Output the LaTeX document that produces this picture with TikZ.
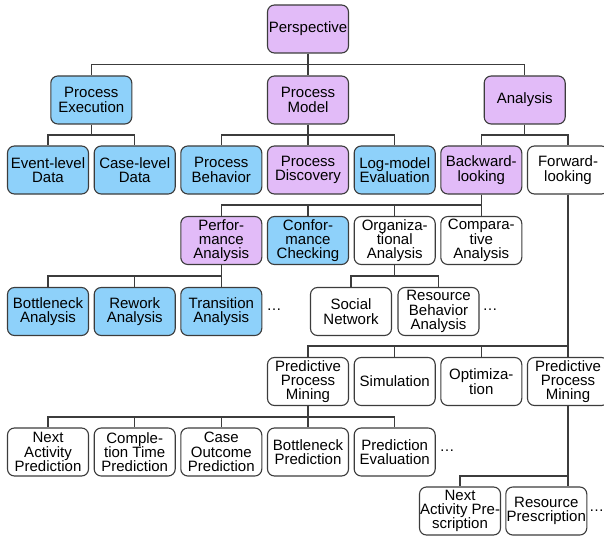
\documentclass[tikz,border=0pt]{standalone}
\usepackage{fontspec}
\setmainfont{Liberation Sans}
\definecolor{lav}{RGB}{226,187,248}
\definecolor{sky}{RGB}{142,209,250}
\definecolor{edge}{RGB}{60,60,60}
\begin{document}
\begin{tikzpicture}[x=1pt,y=-1pt,
  box/.style={draw=edge, line width=1.1pt, rounded corners=7pt,
    minimum width=81pt, minimum height=48pt, inner sep=0pt,
    align=center, font=\fontsize{15}{14.3}\selectfont},
  purplebox/.style={box, fill=lav},
  bluebox/.style={box, fill=sky},
  plainbox/.style={box, fill=white},
  link/.style={draw=edge, line width=1.1pt},
  more/.style={font=\fontsize{15}{14.3}\selectfont, inner sep=0pt}]
\useasboundingbox (0,0) rectangle (604,540);

% bus levels
\coordinate (y1) at (0,64.5);
\coordinate (y2) at (0,135);
\coordinate (y3) at (0,205);
\coordinate (y4) at (0,276);
\coordinate (y5) at (0,346);
\coordinate (y6) at (0,417);
\coordinate (y7) at (0,476);

% level 1-2
\node[purplebox] (persp) at (308,29) {Perspective};
\node[bluebox] (pexec) at (91.3,100) {Process\\Execution};
\node[purplebox] (pmodel) at (308,100) {Process\\Model};
\node[purplebox] (analysis) at (524.7,100) {Analysis};

% level 3
\node[bluebox] (evt) at (48,170) {Event-level\\Data};
\node[bluebox] (case) at (134.7,170) {Case-level\\Data};
\node[bluebox] (pbeh) at (221.3,170) {Process\\Behavior};
\node[purplebox] (pdisc) at (308,170) {Process\\Discovery};
\node[bluebox] (logm) at (394.7,170) {Log-model\\Evaluation};
\node[purplebox] (back) at (481.3,170) {Backward-\\looking};
\node[plainbox] (fwd) at (568,170) {Forward-\\looking};

% level 4
\node[purplebox] (perf) at (221.3,240.5) {Perfor-\\mance\\Analysis};
\node[bluebox] (conf) at (308,240.5) {Confor-\\mance\\Checking};
\node[plainbox] (org) at (394.7,240.5) {Organiza-\\tional\\Analysis};
\node[plainbox] (comp) at (481.3,240.5) {Compara-\\tive\\Analysis};

% level 5
\node[bluebox] (bneck) at (48,311.5) {Bottleneck\\Analysis};
\node[bluebox] (rework) at (134.7,311.5) {Rework\\Analysis};
\node[bluebox] (trans) at (221.3,311.5) {Transition\\Analysis};
\node[more] (dotsA) at (274,310) {…};
\node[plainbox] (social) at (351,311.5) {Social\\Network};
\node[plainbox] (resbeh) at (438.5,311.5) {Resource\\Behavior\\Analysis};
\node[more] (dotsB) at (490,310) {…};

% level 6
\node[plainbox] (ppmL) at (308,381.5) {Predictive\\Process\\Mining};
\node[plainbox] (sim) at (394.7,381.5) {Simulation};
\node[plainbox] (opt) at (481.3,381.5) {Optimiza-\\tion};
\node[plainbox] (ppmR) at (568,381.5) {Predictive\\Process\\Mining};

% level 7
\node[plainbox] (nap) at (48,452) {Next\\Activity\\Prediction};
\node[plainbox] (ctp) at (134.7,452) {Comple-\\tion Time\\Prediction};
\node[plainbox] (cop) at (221.3,452) {Case\\Outcome\\Prediction};
\node[plainbox] (bnp) at (308,452) {Bottleneck\\Prediction};
\node[plainbox] (pev) at (394.7,452) {Prediction\\Evaluation};
\node[more] (dotsC) at (447,451) {…};

% level 8
\node[plainbox] (naps) at (460,511) {Next\\Activity Pre-\\scription};
\node[plainbox] (rps) at (546.3,511) {Resource\\Prescription};
\node[more] (dotsD) at (596.5,511) {…};

% connectors
\foreach \c in {pexec,pmodel,analysis}
  \draw[link] (persp.south) -- (persp.south |- y1) -| (\c.north);
\foreach \c in {evt,case}
  \draw[link] (pexec.south) -- (pexec.south |- y2) -| (\c.north);
\foreach \c in {pbeh,pdisc,logm}
  \draw[link] (pmodel.south) -- (pmodel.south |- y2) -| (\c.north);
\foreach \c in {back,fwd}
  \draw[link] (analysis.south) -- (analysis.south |- y2) -| (\c.north);
\foreach \c in {perf,conf,org,comp}
  \draw[link] (back.south) -- (back.south |- y3) -| (\c.north);
\foreach \c in {bneck,rework,trans}
  \draw[link] (perf.south) -- (perf.south |- y4) -| (\c.north);
\foreach \c in {social,resbeh}
  \draw[link] (org.south) -- (org.south |- y4) -| (\c.north);
\foreach \c in {ppmL,sim,opt,ppmR}
  \draw[link] (fwd.south) -- (fwd.south |- y5) -| (\c.north);
\foreach \c in {nap,ctp,cop,bnp,pev}
  \draw[link] (ppmL.south) -- (ppmL.south |- y6) -| (\c.north);
\draw[link] (ppmR.south) -- (ppmR.south |- y7) -| (naps.north);
\draw[link] (ppmR.south) -- (ppmR.south |- rps.north);
\end{tikzpicture}
\end{document}
